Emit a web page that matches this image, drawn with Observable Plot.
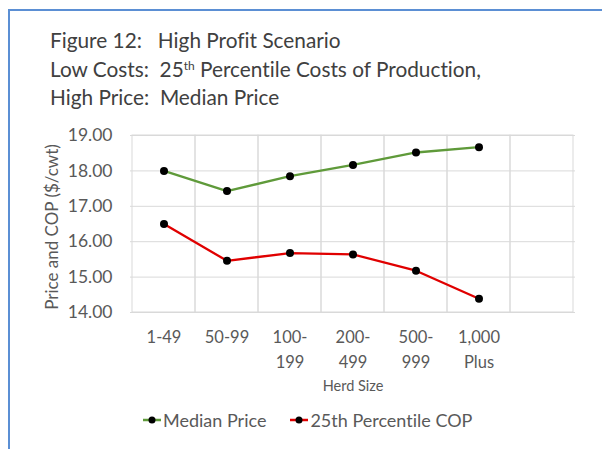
<!DOCTYPE html>
<html>
<head>
<meta charset="utf-8">
<script src="https://cdn.jsdelivr.net/npm/d3@7"></script>
<script src="https://cdn.jsdelivr.net/npm/@observablehq/plot@0.6"></script>
<style>
  html, body { margin: 0; padding: 0; background: #fff; width: 602px; height: 449px; overflow: hidden; font-family: Lato, "Open Sans", sans-serif; font-variant-ligatures: none; }
  #frame { position: absolute; left: 8px; top: 9px; width: 700px; height: 600px; border-left: 2px solid #5b8fd4; border-top: 2px solid #5b8fd4; }
  #title { position: absolute; left: 50px; top: 29px; font-size: 20.8px; color: #404040; white-space: pre; }
  #title div { height: 28.5px; line-height: 22px; }
  #title sup { font-size: 12px; vertical-align: 7px; line-height: 0; }
  #chart { position: absolute; left: 0; top: 120px; }
  #chart svg { font-variant-ligatures: none; }
  #legend { position: absolute; top: 409px; left: 143px; font-size: 18px; color: #595959; white-space: pre; display: flex; align-items: center; }
  .item { display: flex; align-items: center; }
  .item svg { margin-right: 2px; }
</style>
</head>
<body>
<div id="frame"></div>
<div id="title"><div>Figure 12:   High Profit Scenario</div><div>Low Costs:  25<sup>th</sup> Percentile Costs of Production,</div><div>High Price:  Median Price</div></div>
<div id="chart"></div>
<div id="legend"></div>
<script>
const categories = ["1-49", "50-99", "100-199", "200-499", "500-999", "1,000 Plus"];
const tickLabels = ["1-49", "50-99", "100-\n199", "200-\n499", "500-\n999", "1,000\nPlus"];
const seriesNames = ["Median Price", "25th Percentile COP"];
const medianPrice = [18.00, 17.43, 17.85, 18.17, 18.52, 18.67];
const cop25 = [16.50, 15.46, 15.68, 15.64, 15.18, 14.39];
const yTicks = [14, 15, 16, 17, 18, 19];
const seriesColors = ["#5f9a3a", "#e00000"];

const blank = " ";
const xDomain = [...categories, blank];
const labelOf = new Map(categories.map((c, i) => [c, tickLabels[i]]));

const data = [
  ...categories.map((c, i) => ({cat: c, value: medianPrice[i], series: seriesNames[0]})),
  ...categories.map((c, i) => ({cat: c, value: cop25[i], series: seriesNames[1]}))
];

const chart = Plot.plot({
  width: 602,
  height: 280,
  marginTop: 15,
  marginBottom: 88,
  marginLeft: 130,
  marginRight: 27,
  style: {fontFamily: "Lato, 'Open Sans', sans-serif", background: "transparent", overflow: "visible"},
  x: {domain: xDomain, paddingInner: 0, paddingOuter: 0, label: null},
  y: {domain: [14, 19], label: null},
  color: {domain: seriesNames, range: seriesColors},
  marks: [
    Plot.ruleY(yTicks, {stroke: "#d9d9d9", strokeWidth: 1}),
    Plot.barY(xDomain, {x: d => d, y1: 14, y2: 19, fill: "none", stroke: "#d9d9d9", strokeWidth: 1, inset: 0}),
    Plot.axisY({ticks: yTicks, tickSize: 0, tickPadding: 18, tickFormat: d => d.toFixed(2), fontSize: 17.5, fill: "#595959", label: null}),
    Plot.axisX({tickSize: 0, tickPadding: 13, tickFormat: d => labelOf.get(d) ?? "", fontSize: 16.5, fill: "#595959", lineHeight: 1.5, label: null}),
    Plot.text(["Price and COP ($/cwt)"], {frameAnchor: "left", textAnchor: "middle", dx: -78, dy: 3, rotate: -90, fontSize: 17, fill: "#595959", text: d => d}),
    Plot.text(["Herd Size"], {frameAnchor: "bottom", dy: 78, fontSize: 14.5, fill: "#595959", text: d => d}),
    Plot.line(data, {x: "cat", y: "value", z: "series", stroke: "series", strokeWidth: 2.3}),
    Plot.dot(data, {x: "cat", y: "value", r: 4, fill: "black"})
  ]
});
document.getElementById("chart").appendChild(chart);

const legend = document.getElementById("legend");
seriesNames.forEach((name, i) => {
  const item = document.createElement("div");
  item.className = "item";
  item.style.marginRight = i === 0 ? "24px" : "0";
  item.innerHTML = `<svg width="18" height="10"><line x1="0" x2="18" y1="5" y2="5" stroke="${seriesColors[i]}" stroke-width="2.5"/><circle cx="9" cy="5" r="3.5" fill="black"/></svg><span>${name}</span>`;
  legend.appendChild(item);
});
</script>
</body>
</html>
